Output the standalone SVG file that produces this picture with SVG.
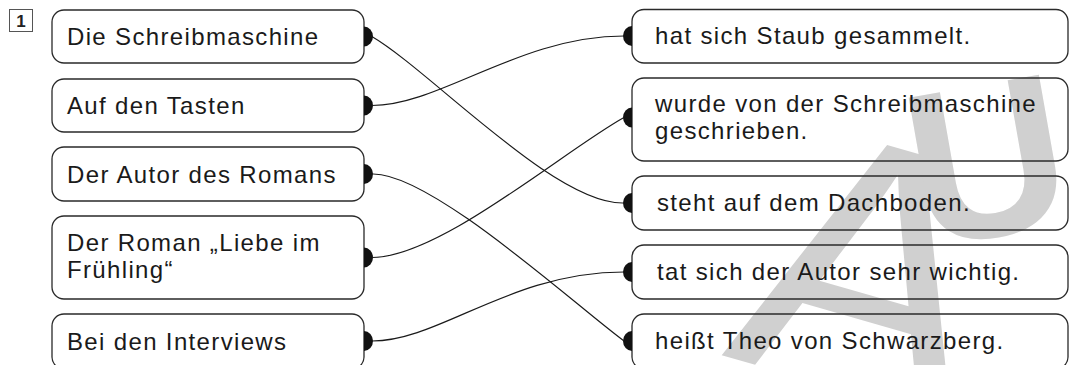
<svg xmlns="http://www.w3.org/2000/svg" width="1069" height="365" viewBox="0 0 1069 365">
<style>
.box{fill:none;stroke:#2a2a2a;stroke-width:1.3}
.t{font-family:"Liberation Sans",Arial,sans-serif;font-size:24px;letter-spacing:1.35px;fill:#1a1a1a}
.dot{fill:#111}
.c{fill:none;stroke:#1a1a1a;stroke-width:1.2}
.num{fill:none;stroke:#555;stroke-width:1}
.nt{font-family:"Liberation Sans",Arial,sans-serif;font-size:17px;font-weight:bold;fill:#222}
.wm{font-family:"Liberation Sans",Arial,sans-serif;fill:#d0d0d0}
</style>
<rect width="1069" height="365" fill="#fff"/>
<g id="watermark">
<text class="wm" x="721" y="355" font-size="360" transform="rotate(16 721 355)">A</text>
<text class="wm" x="922" y="249" font-size="220" font-weight="bold" transform="rotate(-10 922 249)">U</text>
</g>
<g id="task-number">
<rect class="num" x="9.5" y="9.5" width="23" height="22"/>
<text class="nt" x="21" y="27" text-anchor="middle">1</text>
</g>
<g id="left-1">
<rect class="box" x="52" y="10" width="312" height="53" rx="12"/>
<text class="t" x="67" y="45">Die Schreibmaschine</text>
<path class="dot" d="M364,26.5 A9,10 0 0 1 364,46.5 Z"/>
</g>
<g id="left-2">
<rect class="box" x="52" y="79" width="312" height="53" rx="12"/>
<text class="t" x="67" y="114">Auf den Tasten</text>
<path class="dot" d="M364,95.5 A9,10 0 0 1 364,115.5 Z"/>
</g>
<g id="left-3">
<rect class="box" x="52" y="147" width="312" height="54" rx="12"/>
<text class="t" x="67" y="183">Der Autor des Romans</text>
<path class="dot" d="M364,164 A9,10 0 0 1 364,184 Z"/>
</g>
<g id="left-4">
<rect class="box" x="52" y="216" width="312" height="83" rx="12"/>
<text class="t" x="67" y="251">Der Roman „Liebe im</text>
<text class="t" x="67" y="278">Frühling“</text>
<path class="dot" d="M364,247.5 A9,10 0 0 1 364,267.5 Z"/>
</g>
<g id="left-5">
<rect class="box" x="52" y="314" width="312" height="55" rx="12"/>
<text class="t" x="67" y="350">Bei den Interviews</text>
<path class="dot" d="M364,331 A9,10 0 0 1 364,351 Z"/>
</g>
<g id="right-1">
<rect class="box" x="632" y="9.5" width="436" height="53.5" rx="12"/>
<text class="t" x="655" y="44">hat sich Staub gesammelt.</text>
<path class="dot" d="M632,26 A9,10 0 0 0 632,46 Z"/>
</g>
<g id="right-2">
<rect class="box" x="632" y="78" width="436" height="83" rx="12"/>
<text class="t" x="655" y="112">wurde von der Schreibmaschine</text>
<text class="t" x="655" y="139">geschrieben.</text>
<path class="dot" d="M632,107.5 A9,10 0 0 0 632,127.5 Z"/>
</g>
<g id="right-3">
<rect class="box" x="632" y="176" width="436" height="54" rx="12"/>
<text class="t" x="657" y="211">steht auf dem Dachboden.</text>
<path class="dot" d="M632,193 A9,10 0 0 0 632,213 Z"/>
</g>
<g id="right-4">
<rect class="box" x="632" y="245" width="436" height="54" rx="12"/>
<text class="t" x="657" y="280">tat sich der Autor sehr wichtig.</text>
<path class="dot" d="M632,262 A9,10 0 0 0 632,282 Z"/>
</g>
<g id="right-5">
<rect class="box" x="632" y="314" width="436" height="55" rx="12"/>
<text class="t" x="655" y="349">heißt Theo von Schwarzberg.</text>
<path class="dot" d="M632,331 A9,10 0 0 0 632,351 Z"/>
</g>
<g id="connectors">
<path class="c" d="M371,36 C430,70 555,205 624,203"/>
<path class="c" d="M372,105.5 C440,105.5 520,36 624,36"/>
<path class="c" d="M372,174 C430,172 575,305 624,341"/>
<path class="c" d="M372,257.5 C440,257.5 565,150 624,117.5"/>
<path class="c" d="M372,341 C440,341 510,272 624,272"/>
</g>
</svg>
